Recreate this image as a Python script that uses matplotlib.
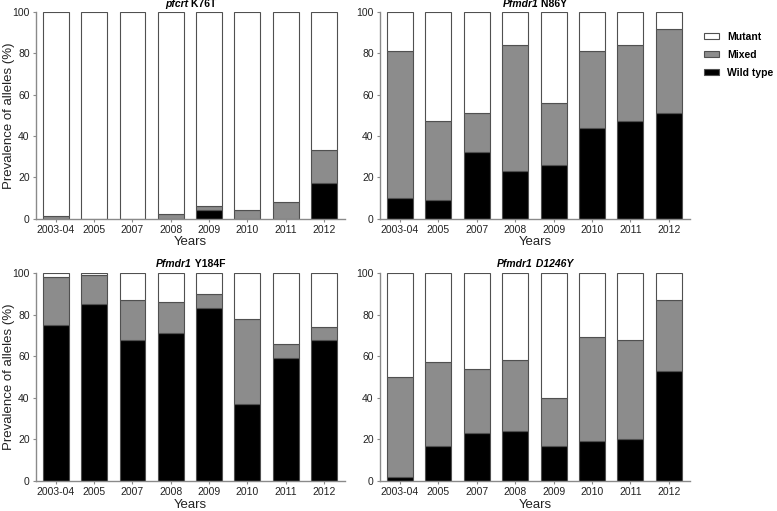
import matplotlib
matplotlib.use("Agg")
import matplotlib.pyplot as plt
from matplotlib.patches import Patch
import numpy as np

plt.rcParams['font.family'] = ['Liberation Sans', 'DejaVu Sans']

years = ["2003-04", "2005", "2007", "2008", "2009", "2010", "2011", "2012"]

# wild type / mixed percentages per panel; mutant is the rest up to 100
k76t_wild = [0, 0, 0, 0, 4, 0, 0, 17]
k76t_mixed = [1, 0, 0, 2, 2, 4, 8, 16]

n86y_wild = [10, 9, 32, 23, 26, 44, 47, 51]
n86y_mixed = [71, 38, 19, 61, 30, 37, 37, 41]

y184f_wild = [75, 85, 68, 71, 83, 37, 59, 68]
y184f_mixed = [23, 14, 19, 15, 7, 41, 7, 6]

d1246y_wild = [2, 17, 23, 24, 17, 19, 20, 53]
d1246y_mixed = [48, 40, 31, 34, 23, 50, 48, 34]

panels = [
    (("pfcrt", " K76T"), False, k76t_wild, k76t_mixed),
    (("Pfmdr1", " N86Y"), False, n86y_wild, n86y_mixed),
    (("Pfmdr1", " Y184F"), False, y184f_wild, y184f_mixed),
    (("Pfmdr1", " D1246Y"), True, d1246y_wild, d1246y_mixed),
]

W, H = 777, 511
fig = plt.figure(figsize=(W / 100, H / 100), dpi=100)

# axes boxes in pixels: left, top, right, bottom
boxes = [(36, 12, 345, 218.5), (380, 12, 690, 218.5),
         (36, 273, 345, 481), (380, 273, 690, 481)]
title_y = [4, 4, 264, 264]

edge = "#505050"
spine_c = "#8a8a8a"
mixed_c = "#8c8c8c"

for i, (title, all_italic, wild, mixed) in enumerate(panels):
    l, t, r, b = boxes[i]
    ax = fig.add_axes([l / W, 1 - b / H, (r - l) / W, (b - t) / H])
    x = np.arange(len(years))
    wild = np.array(wild)
    mixed = np.array(mixed)
    mutant = 100 - wild - mixed
    bw = 0.675
    ax.bar(x, wild, bw, color="black", edgecolor=edge, linewidth=0.8)
    ax.bar(x, mixed, bw, bottom=wild, color=mixed_c, edgecolor=edge, linewidth=0.8)
    ax.bar(x, mutant, bw, bottom=wild + mixed, color="white", edgecolor=edge, linewidth=0.8)

    ax.set_xlim(-0.52, 7.55)
    ax.set_ylim(0, 100)
    ax.set_yticks(range(0, 101, 20))
    ax.set_xticks(x)
    ax.set_xticklabels(years)
    for s in ["top", "right"]:
        ax.spines[s].set_visible(False)
    for s in ["left", "bottom"]:
        ax.spines[s].set_color(spine_c)
        ax.spines[s].set_linewidth(1.0)
    ax.tick_params(axis="both", length=2.5, width=0.8, color=spine_c,
                   labelsize=7.5, pad=2, labelcolor="#222222")
    ax.set_xlabel("Years", fontsize=9.5, labelpad=1, color="#222222")
    if i % 2 == 0:
        ax.set_ylabel("Prevalence of alleles (%)", fontsize=9.5, color="#222222",
                      va="center")
        ax.yaxis.set_label_coords((9 - l) / (r - l), 0.5)

    gene, mut = title
    cx = (l + r) / 2 / W
    ty = 1 - title_y[i] / H
    fig.text(cx, ty, gene, fontsize=7.5, fontweight="bold",
             style="italic", ha="right", va="center")
    fig.text(cx, ty, mut, fontsize=7.5, fontweight="bold",
             style="italic" if all_italic else "normal", ha="left", va="center")

# shift titles so the full string is centered
fig.canvas.draw()
rend = fig.canvas.get_renderer()
txts = fig.texts
for j in range(0, len(txts), 2):
    a, b2 = txts[j], txts[j + 1]
    wa = a.get_window_extent(rend).width
    wb = b2.get_window_extent(rend).width
    x0, y0 = a.get_position()
    shift = (wa - wb) / 2 / W
    a.set_position((x0 + shift, y0))
    b2.set_position((x0 + shift, y0))

handles = [Patch(facecolor="white", edgecolor=edge, linewidth=0.8, label="Mutant"),
           Patch(facecolor=mixed_c, edgecolor=edge, linewidth=0.8, label="Mixed"),
           Patch(facecolor="black", edgecolor=edge, linewidth=0.8, label="Wild type")]
fig.legend(handles=handles, loc="upper left", bbox_to_anchor=(704 / W, 1 - 32 / H),
           frameon=False, prop={"size": 7.5, "weight": "bold"},
           borderpad=0, borderaxespad=0,
           handlelength=1.4, handleheight=0.5, labelspacing=0.75, handletextpad=0.8)

fig.savefig("out.png", dpi=100)
